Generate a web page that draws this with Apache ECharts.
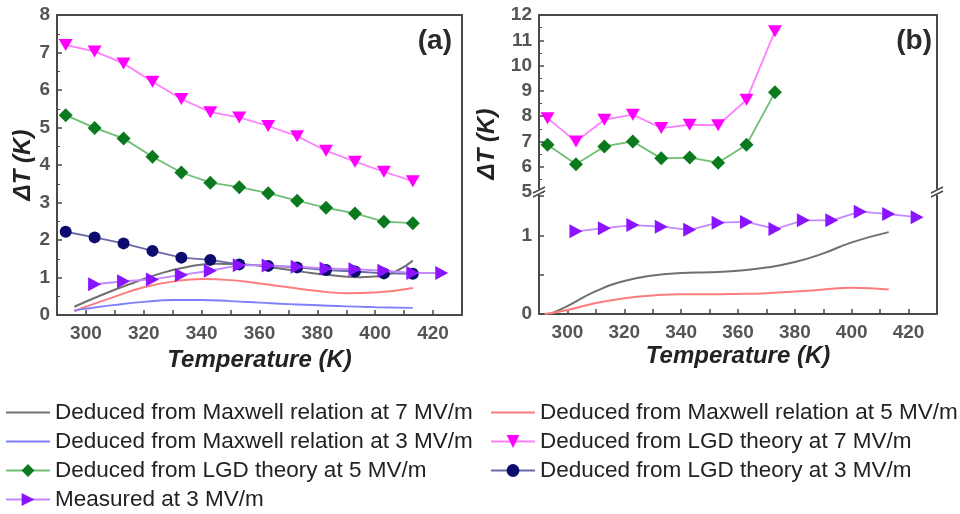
<!DOCTYPE html>
<html><head><meta charset="utf-8">
<script src="https://cdn.jsdelivr.net/npm/echarts@6/dist/echarts.min.js"></script>
<style>html,body{margin:0;padding:0;background:#fff}#c{width:960px;height:514px}</style>
</head><body><div id="c"></div>
<script>
// ---------- data: panel (a) ----------
const T_lgd_a = [293,303,313,323,333,343,353,363,373,383,393,403,413];
const lgd7_a = [7.20,7.03,6.71,6.22,5.76,5.41,5.27,5.04,4.77,4.38,4.09,3.82,3.57];
const lgd5_a = [5.33,4.99,4.71,4.22,3.80,3.53,3.41,3.25,3.05,2.86,2.71,2.49,2.45];
const lgd3_a = [2.22,2.07,1.91,1.71,1.53,1.47,1.35,1.31,1.27,1.20,1.16,1.11,1.10];
const T_meas = [303,313,323,333,343,353,363,373,383,393,403,413,423];
const meas_a = [0.82,0.90,0.95,1.07,1.18,1.33,1.32,1.29,1.24,1.22,1.18,1.12,1.12];
const T_mx7_a = [296,305,315,325,335,345,355,365,375,385,395,402,408,413];
const mx7_a = [0.22,0.52,0.82,1.09,1.28,1.37,1.35,1.26,1.15,1.06,1.01,1.04,1.20,1.45];
const T_mx_a = [296,300,310,320,330,340,350,360,370,380,390,400,413];
const mx5_a = [0.10,0.22,0.49,0.74,0.89,0.96,0.93,0.84,0.74,0.64,0.58,0.60,0.72];
const mx3_a = [0.12,0.17,0.27,0.35,0.40,0.40,0.37,0.33,0.29,0.26,0.23,0.21,0.19];
// ---------- data: panel (b) ----------
const T_lgd_b = [293,303,313,323,333,343,353,363,373];
const lgd7_b = [7.92,7.00,7.86,8.06,7.53,7.66,7.64,8.65,11.36];
const lgd5_b = [6.87,6.10,6.80,7.00,6.33,6.36,6.16,6.87,8.94];
const meas_b = [1.05,1.09,1.13,1.11,1.07,1.16,1.17,1.08,1.19,1.19,1.30,1.27,1.23];
const T_mx7_b = [294,300,310,320,330,340,350,360,370,380,390,400,413];
const mx7_b = [0.00,0.10,0.29,0.42,0.49,0.52,0.53,0.55,0.59,0.66,0.77,0.91,1.04];
const T_mx5_b = [292,300,310,320,330,340,350,360,370,380,390,400,413];
const mx5_b = [0.00,0.05,0.14,0.20,0.235,0.25,0.25,0.255,0.265,0.285,0.31,0.335,0.31];
// ---------- labels ----------
const N_MX7 = 'Deduced from Maxwell relation at 7 MV/m';
const N_MX5 = 'Deduced from Maxwell relation at 5 MV/m';
const N_MX3 = 'Deduced from Maxwell relation at 3 MV/m';
const N_L7 = 'Deduced from LGD theory at 7 MV/m';
const N_L5 = 'Deduced from LGD theory at 5 MV/m';
const N_L3 = 'Deduced from LGD theory at 3 MV/m';
const N_MEAS = 'Measured at 3 MV/m';
const xTitle = 'Temperature (K)';
const yTitle = '\u0394T (K)';

const zip = (xs, ys) => xs.map((x, i) => [x, ys[i]]);
const AX = '#4a4a4a';
const labelFont = {fontFamily: 'Liberation Sans', fontWeight: 'bold', fontSize: 19, color: '#555'};
const titleFont = {fontFamily: 'Liberation Sans', fontWeight: 'bold', fontStyle: 'italic', fontSize: 24, color: '#222'};

function xAx(grid, show) {
  return {
    type: 'value', gridIndex: grid, min: 290, max: 430, interval: 10, show: show,
    axisLine: {show: true, onZero: false, lineStyle: {color: AX, width: 2}},
    axisTick: {inside: true, length: 5, lineStyle: {color: AX, width: 1.5}},
    axisLabel: Object.assign({margin: 9, formatter: v => (v % 20 === 0 ? String(v) : '')}, labelFont),
    splitLine: {show: false},
    name: show ? xTitle : '', nameLocation: 'middle', nameGap: 30, nameTextStyle: titleFont
  };
}
function yAx(grid, min, max, interval, minor, name) {
  return {
    type: 'value', gridIndex: grid, min: min, max: max, interval: interval,
    axisLine: {show: true, onZero: false, lineStyle: {color: AX, width: 2}},
    axisTick: {inside: true, length: 5, lineStyle: {color: AX, width: 1.5}},
    minorTick: {show: minor, splitNumber: 2, length: 3, lineStyle: {color: AX, width: 1}},
    axisLabel: Object.assign({margin: 7, formatter: v => (Number.isInteger(v) ? String(v) : '')}, labelFont),
    splitLine: {show: false},
    name: name || '', nameLocation: 'middle', nameGap: 20, nameRotate: 90, nameTextStyle: titleFont
  };
}
function frameX(grid) {
  return {type: 'value', gridIndex: grid, position: 'top', min: 290, max: 430,
    axisLine: {show: true, onZero: false, lineStyle: {color: AX, width: 2}},
    axisTick: {show: false}, axisLabel: {show: false}, splitLine: {show: false}};
}
function frameY(grid, min, max) {
  return {type: 'value', gridIndex: grid, position: 'right', min: min, max: max,
    axisLine: {show: true, onZero: false, lineStyle: {color: AX, width: 2}},
    axisTick: {show: false}, axisLabel: {show: false}, splitLine: {show: false}};
}

function curve(name, xi, yi, data, color) {
  return {name: name, type: 'line', xAxisIndex: xi, yAxisIndex: yi, data: data,
    symbol: 'none', smooth: 0.5,
    lineStyle: {color: color, width: 2}, itemStyle: {color: color}, z: 2};
}
function marked(name, xi, yi, data, mColor, lColor, symbol, size, rot, z) {
  return {name: name, type: 'line', xAxisIndex: xi, yAxisIndex: yi, data: data,
    symbol: symbol, symbolSize: size, symbolRotate: rot, showSymbol: true,
    lineStyle: {color: lColor, width: 1.8}, itemStyle: {color: mColor, borderWidth: 0}, z: z};
}

const C = {
  gray: '#707070', red: '#ff7c7c', blue: '#8080ff',
  mag: '#ff00ff', magL: '#ff80ff', grn: '#0b7a1e', grnL: '#6fbf73',
  navy: '#0c0c6e', navyL: '#6a6aa8', pur: '#8a14ff', purL: '#c488ff'
};
const noSym = name => ({name: name, itemStyle: {opacity: 0}});
const legTxt = {fontFamily: 'Liberation Sans', fontSize: 22.5, color: '#222'};

const option = {
  animation: false,
  backgroundColor: '#fff',
  grid: [
    {left: 57, top: 15, width: 405, height: 300, show: true, borderColor: AX, borderWidth: 2},
    {left: 539, top: 15, width: 398, height: 177},
    {left: 539, top: 192, width: 398, height: 122}
  ],
  xAxis: [xAx(0, true), xAx(1, false), xAx(2, true), frameX(1)],
  yAxis: [yAx(0, 0, 8, 1, true, yTitle), yAx(1, 5, 12, 1, true, ''), yAx(2, 0, 1.55, 0.5, false, ''),
          frameY(1, 5, 12), frameY(2, 0, 1.55)],
  legend: [
    {orient: 'vertical', left: 5, top: 401, height: 150, padding: 0, itemWidth: 44, itemHeight: 16, itemGap: 6,
     textStyle: legTxt, data: [noSym(N_MX7), noSym(N_MX3), N_L5, N_MEAS]},
    {orient: 'vertical', left: 490, top: 401, height: 150, padding: 0, itemWidth: 44, itemHeight: 16, itemGap: 6,
     textStyle: legTxt, data: [noSym(N_MX5), N_L7, N_L3]}
  ],
  series: [
    curve(N_MX7, 0, 0, zip(T_mx7_a, mx7_a), C.gray),
    curve(N_MX5, 0, 0, zip(T_mx_a, mx5_a), C.red),
    curve(N_MX3, 0, 0, zip(T_mx_a, mx3_a), C.blue),
    marked(N_L3, 0, 0, zip(T_lgd_a, lgd3_a), C.navy, C.navyL, 'circle', 12, 0, 3),
    marked(N_L5, 0, 0, zip(T_lgd_a, lgd5_a), C.grn, C.grnL, 'diamond', 14, 0, 3),
    marked(N_L7, 0, 0, zip(T_lgd_a, lgd7_a), C.mag, C.magL, 'triangle', [14, 12], 180, 3),
    marked(N_MEAS, 0, 0, zip(T_meas, meas_a), C.pur, C.purL, 'triangle', [14, 13], -90, 4),
    curve(N_MX7, 2, 2, zip(T_mx7_b, mx7_b), C.gray),
    curve(N_MX5, 2, 2, zip(T_mx5_b, mx5_b), C.red),
    marked(N_L5, 1, 1, zip(T_lgd_b, lgd5_b), C.grn, C.grnL, 'diamond', 14, 0, 3),
    marked(N_L7, 1, 1, zip(T_lgd_b, lgd7_b), C.mag, C.magL, 'triangle', [14, 12], 180, 3),
    marked(N_MEAS, 2, 2, zip(T_meas, meas_b), C.pur, C.purL, 'triangle', [14, 13], -90, 4)
  ]
};

const chart = echarts.init(document.getElementById('c'), null, {renderer: 'canvas'});
chart.setOption(option);

// decorations: panel letters, (b) y title, axis break marks
const pL = chart.convertToPixel({gridIndex: 2}, [290, 1.55]);
const pR = chart.convertToPixel({gridIndex: 2}, [430, 1.55]);
const pU = chart.convertToPixel({gridIndex: 1}, [290, 12]);
const pA = chart.convertToPixel({gridIndex: 0}, [430, 8]);
function brk(p) {
  const x = p[0], y = p[1];
  return [
    {type: 'rect', shape: {x: x - 4, y: y - 3, width: 8, height: 6}, style: {fill: '#fff'}, z: 100},
    {type: 'line', shape: {x1: x - 6, y1: y + 1, x2: x + 6, y2: y - 5}, style: {stroke: AX, lineWidth: 1.5}, z: 101},
    {type: 'line', shape: {x1: x - 6, y1: y + 5, x2: x + 6, y2: y - 1}, style: {stroke: AX, lineWidth: 1.5}, z: 101}
  ];
}
chart.setOption({
  graphic: [
    {type: 'text', right: 960 - pA[0] + 10, top: pA[1] + 12, style: {text: '(a)', font: 'bold 28px "Liberation Sans"', fill: '#2a2a2a'}, z: 50},
    {type: 'text', right: 960 - pR[0] + 5, top: pU[1] + 12, style: {text: '(b)', font: 'bold 28px "Liberation Sans"', fill: '#2a2a2a'}, z: 50},
    {type: 'text', x: pL[0] - 52, y: pL[1] - 48, rotation: Math.PI / 2, style: {text: yTitle, font: 'italic bold 24px "Liberation Sans"', fill: '#222', align: 'center', verticalAlign: 'middle'}, z: 50}
  ].concat(brk(pL), brk(pR))
});
</script></body></html>
